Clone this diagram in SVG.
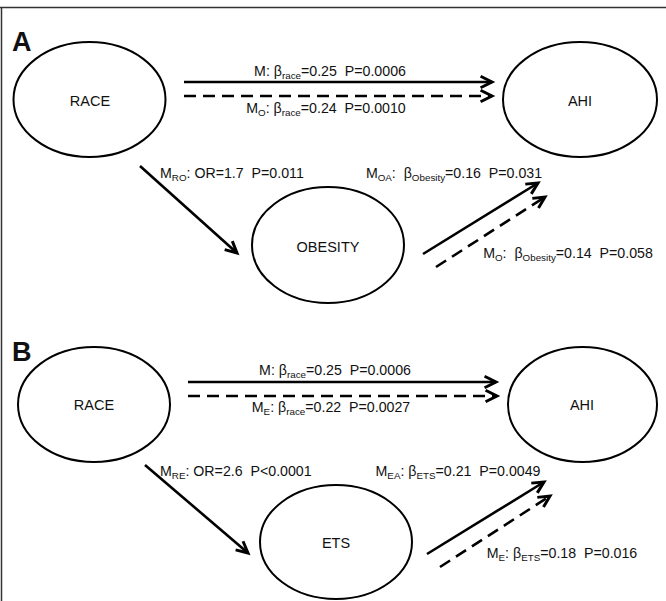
<svg xmlns="http://www.w3.org/2000/svg" width="666" height="601" viewBox="0 0 666 601">
<style>
.node ellipse{fill:#fff;stroke:#000;stroke-width:2}
.node text{font-family:"Liberation Sans",Arial,sans-serif;font-size:14.5px;fill:#111;text-anchor:middle}
.lbl{font-family:"Liberation Sans",Arial,sans-serif;font-size:14.2px;fill:#111;white-space:pre}
.sub{font-size:9.8px}
.panel{font-family:"Liberation Sans",Arial,sans-serif;font-size:27px;font-weight:bold;fill:#111}
.solid{stroke:#000;stroke-width:2.6;fill:none;marker-end:url(#arr)}
.dash{stroke:#000;stroke-width:2.6;fill:none;stroke-dasharray:12 7;marker-end:url(#arr)}
</style>
<defs>
<marker id="arr" markerUnits="userSpaceOnUse" markerWidth="16" markerHeight="16" viewBox="-2 -2 14 14" refX="10" refY="5" orient="auto" overflow="visible">
<path d="M0,0 L10,5 L0,10" fill="none" stroke="#000" stroke-width="2.6" stroke-linejoin="miter"/>
</marker>
</defs>
<rect width="666" height="601" fill="#fff"/>
<g id="frame" stroke="#333" stroke-width="1.5" fill="none">
<line x1="0" y1="7.5" x2="666" y2="7.5"/>
<line x1="1.5" y1="7" x2="1.5" y2="601"/>
</g>
<text class="panel" x="12" y="51">A</text>
<text class="panel" x="12" y="361">B</text>

<g id="A-race" class="node"><ellipse cx="89.5" cy="99.5" rx="76" ry="57.5"/><text x="90" y="106">RACE</text></g>
<g id="A-ahi" class="node"><ellipse cx="580" cy="99.5" rx="77" ry="57.5"/><text x="580" y="106">AHI</text></g>
<g id="A-obesity" class="node"><ellipse cx="328" cy="245" rx="76" ry="58"/><text x="328" y="252">OBESITY</text></g>

<g id="B-race" class="node"><ellipse cx="94" cy="404.5" rx="76" ry="57.5"/><text x="94" y="410">RACE</text></g>
<g id="B-ahi" class="node"><ellipse cx="582.5" cy="404.5" rx="74.5" ry="57.5"/><text x="582" y="410">AHI</text></g>
<g id="B-ets" class="node"><ellipse cx="336" cy="542" rx="76" ry="57"/><text x="336" y="548">ETS</text></g>

<g id="connectors">
<line class="solid" x1="184" y1="82" x2="492" y2="82"/>
<line class="dash" x1="184" y1="96" x2="492" y2="96"/>
<line class="solid" x1="140" y1="166" x2="237" y2="253"/>
<line class="solid" x1="423" y1="254" x2="538" y2="183"/>
<line class="dash" x1="436" y1="267" x2="545" y2="197"/>

<line class="solid" x1="188" y1="382" x2="496" y2="382"/>
<line class="dash" x1="188" y1="396" x2="497" y2="396"/>
<line class="solid" x1="145" y1="465" x2="248" y2="553"/>
<line class="solid" x1="427" y1="554" x2="544" y2="482"/>
<line class="dash" x1="440" y1="567" x2="550" y2="496"/>
</g>

<g id="labels">
<text class="lbl" x="330" y="76" text-anchor="middle">M: β<tspan class="sub" dy="3">race</tspan><tspan dy="-3">=0.25&#160; P=0.0006</tspan></text>
<text class="lbl" x="326" y="113" text-anchor="middle">M<tspan class="sub" dy="3">O</tspan><tspan dy="-3">: β</tspan><tspan class="sub" dy="3">race</tspan><tspan dy="-3">=0.24&#160; P=0.0010</tspan></text>
<text class="lbl" x="160" y="178">M<tspan class="sub" dy="3">RO</tspan><tspan dy="-3">: OR=1.7&#160; P=0.011</tspan></text>
<text class="lbl" x="454" y="178" text-anchor="middle">M<tspan class="sub" dy="3">OA</tspan><tspan dy="-3">:&#160; β</tspan><tspan class="sub" dy="3">Obesity</tspan><tspan dy="-3">=0.16&#160; P=0.031</tspan></text>
<text class="lbl" x="568" y="258" text-anchor="middle">M<tspan class="sub" dy="3">O</tspan><tspan dy="-3">:&#160; β</tspan><tspan class="sub" dy="3">Obesity</tspan><tspan dy="-3">=0.14&#160; P=0.058</tspan></text>

<text class="lbl" x="335" y="375" text-anchor="middle">M: β<tspan class="sub" dy="3">race</tspan><tspan dy="-3">=0.25&#160; P=0.0006</tspan></text>
<text class="lbl" x="331" y="412" text-anchor="middle">M<tspan class="sub" dy="3">E</tspan><tspan dy="-3">: β</tspan><tspan class="sub" dy="3">race</tspan><tspan dy="-3">=0.22&#160; P=0.0027</tspan></text>
<text class="lbl" x="160" y="476">M<tspan class="sub" dy="3">RE</tspan><tspan dy="-3">: OR=2.6&#160; P&lt;0.0001</tspan></text>
<text class="lbl" x="458" y="476" text-anchor="middle">M<tspan class="sub" dy="3">EA</tspan><tspan dy="-3">: β</tspan><tspan class="sub" dy="3">ETS</tspan><tspan dy="-3">=0.21&#160; P=0.0049</tspan></text>
<text class="lbl" x="562" y="558" text-anchor="middle">M<tspan class="sub" dy="3">E</tspan><tspan dy="-3">: β</tspan><tspan class="sub" dy="3">ETS</tspan><tspan dy="-3">=0.18&#160; P=0.016</tspan></text>
</g>
</svg>
